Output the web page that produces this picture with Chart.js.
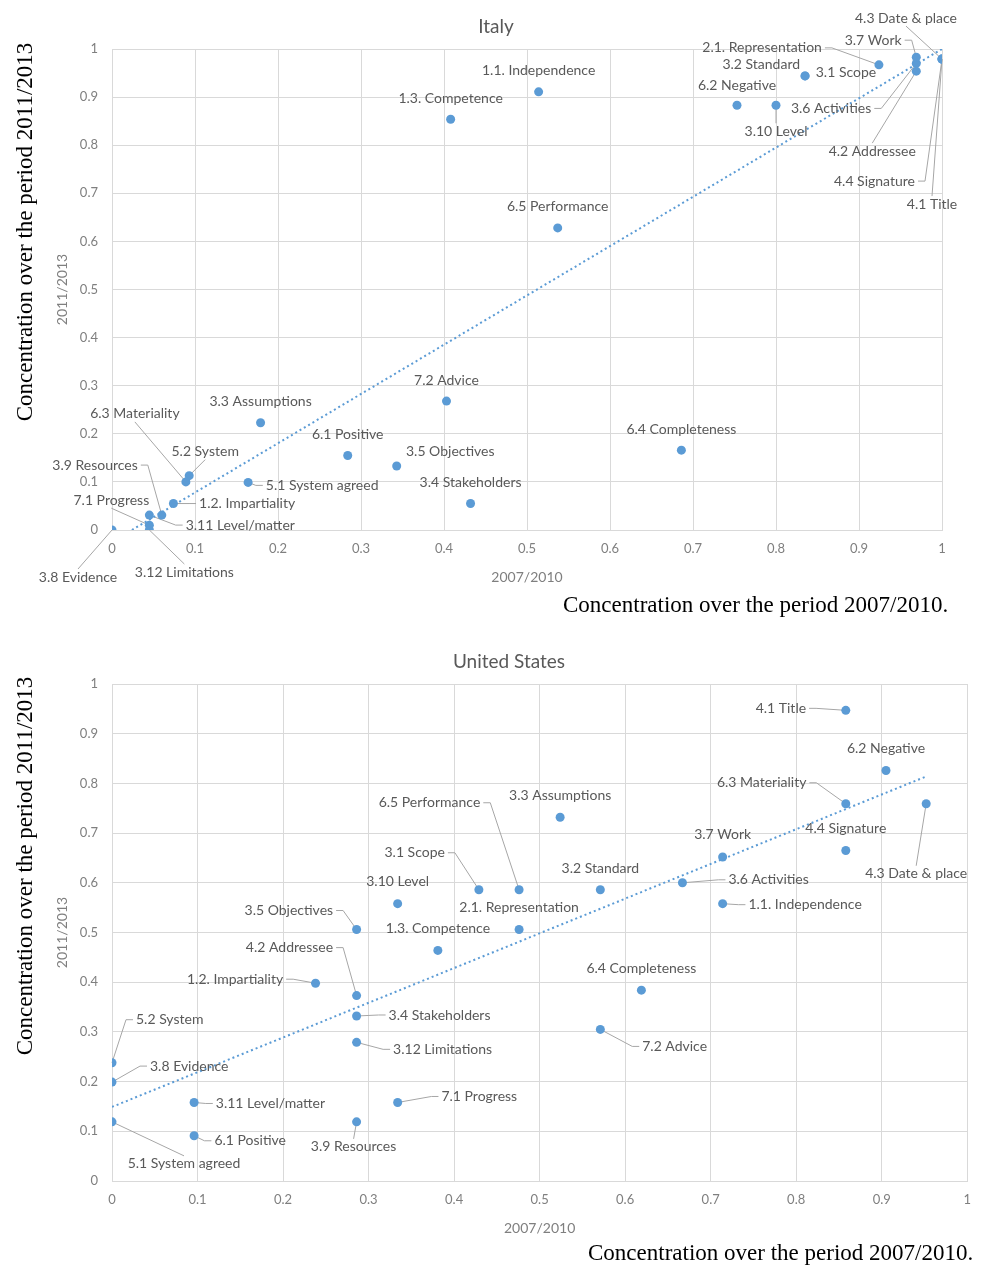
<!DOCTYPE html>
<html>
<head>
<meta charset="utf-8">
<script src="https://cdn.jsdelivr.net/npm/chart.js@4.4.1/dist/chart.umd.min.js"></script>
<style>
  html, body { margin: 0; padding: 0; background: #fff; }
  body { width: 982px; height: 1265px; position: relative; overflow: hidden; }
  .box { position: absolute; left: 0; width: 982px; }
  .cap { position: absolute; font-family: "Liberation Serif", "Times New Roman", serif; font-size: 23px; color: #000; white-space: nowrap; line-height: 1; }
  .rot { transform: translate(-50%, -50%) rotate(-90deg); }
</style>
</head>
<body>
<div class="box" style="top:0;height:595px"><canvas id="italy"></canvas></div>
<div class="box" style="top:630px;height:620px"><canvas id="us"></canvas></div>
<div class="cap rot" style="left:24px;top:232px">Concentration over the period 2011/2013</div>
<div class="cap" style="left:563px;top:593px">Concentration over the period 2007/2010.</div>
<div class="cap rot" style="left:24px;top:866px">Concentration over the period 2011/2013</div>
<div class="cap" style="left:588px;top:1241px">Concentration over the period 2007/2010.</div>
<script>
// item names, same order for both countries
const names = ['1.1. Independence', '1.2. Impartiality', '1.3. Competence', '2.1. Representation',
  '3.1 Scope', '3.2 Standard', '3.3 Assumptions', '3.4 Stakeholders', '3.5 Objectives',
  '3.6 Activities', '3.7 Work', '3.8 Evidence', '3.9 Resources', '3.10 Level',
  '3.11 Level/matter', '3.12 Limitations', '4.1 Title', '4.2 Addressee', '4.3 Date & place',
  '4.4 Signature', '5.1 System agreed', '5.2 System', '6.1 Positive', '6.2 Negative',
  '6.3 Materiality', '6.4 Completeness', '6.5 Performance', '7.1 Progress', '7.2 Advice'];

// Italy: concentration 2007/2010 (x) and 2011/2013 (y)
const itX = [0.514, 0.074, 0.408, 0.924, 0.835, 0.835, 0.179, 0.432, 0.343, 0.969, 0.969, 0, 0.060, 0.800,
  0.045, 0.045, 1, 0.969, 1, 1, 0.164, 0.093, 0.284, 0.753, 0.089, 0.686, 0.537, 0.045, 0.403];
const itY = [0.911, 0.055, 0.854, 0.967, 0.944, 0.944, 0.223, 0.055, 0.133, 0.970, 0.983, 0, 0.031, 0.883,
  0.031, 0, 0.979, 0.954, 0.979, 0.979, 0.099, 0.113, 0.155, 0.883, 0.100, 0.166, 0.628, 0.010, 0.268];
const itTrendX = [0.024, 1];
const itTrendY = [0, 1.0];

// United States
const usX = [0.714, 0.238, 0.381, 0.476, 0.429, 0.571, 0.524, 0.286, 0.286, 0.667, 0.714, 0, 0.286, 0.334,
  0.096, 0.286, 0.858, 0.286, 0.952, 0.858, 0, 0, 0.096, 0.905, 0.858, 0.619, 0.476, 0.334, 0.571];
const usY = [0.558, 0.398, 0.464, 0.506, 0.586, 0.586, 0.732, 0.332, 0.506, 0.600, 0.652, 0.199, 0.119, 0.558,
  0.158, 0.279, 0.947, 0.373, 0.759, 0.665, 0.119, 0.238, 0.091, 0.826, 0.759, 0.384, 0.586, 0.158, 0.305];
const usTrendX = [0, 0.952];
const usTrendY = [0.149, 0.814];

const tickLabels = ['0', '0.1', '0.2', '0.3', '0.4', '0.5', '0.6', '0.7', '0.8', '0.9', '1'];

// label placement: [dx, dy, side] relative to the point (px)
// l/r = leader from left/right edge, t/b = from top/bottom, c = centred, L/R = aligned, no leader
const itLabelPos = [[0, -21, 'c'], [25.6, 0, 'l'], [0, -21, 'c'], [-57, -17, 'r'], [10.7, -3, 'L'],
  [-5, -11, 'R'], [0, -21, 'c'], [0, -21, 'c'], [9.3, -15, 'L'], [-45, 45, 'r'], [-14.6, -17, 'r'],
  [-34, 47, 't'], [-24, -50, 'r'], [0, 26, 't'], [36.3, 10, 'l'], [35, 42, 't'], [-10, 145, 't'],
  [-44, 80, 't'], [-36, -41, 'b'], [-27, 122, 'r'], [17.7, 3, 'l'], [16, -24, 'b'], [0, -21, 'c'],
  [0, -20, 'c'], [-51, -68, 'b'], [0, -21, 'c'], [0, -21, 'c'], [-38, -25, 'b'], [0, -21, 'c']];
const usLabelPos = [[25.8, 1, 'l'], [-32.4, -4, 'r'], [0, -22, 'c'], [0, -22, 'c'], [-34, -37, 'r'],
  [0, -21, 'c'], [0, -22, 'c'], [32, -1, 'l'], [-23.5, -19, 'r'], [46, -3, 'l'], [0, -22, 'c'],
  [38, -16, 'l'], [-3, 25, 't'], [0, -22, 'c'], [21.7, 1, 'l'], [36.5, 7, 'l'], [-39.7, -2, 'r'],
  [-23.5, -48, 'r'], [-10, 70, 't'], [0, -22, 'c'], [72, 42, 't'], [24, -43, 'l'], [20.3, 5, 'l'],
  [0, -22, 'c'], [-39.4, -21, 'r'], [0, -22, 'c'], [-38.8, -87, 'r'], [43.8, -6, 'l'], [41.9, 17, 'l']];

const LABEL_FONT = '14px Lato';

function labelBox(ctx, text, pt, p) {
  const w = ctx.measureText(text).width;
  const side = p[2];
  let left;
  if (side === 'l' || side === 'L') left = pt.x + p[0];
  else if (side === 'r' || side === 'R') left = pt.x + p[0] - w;
  else left = pt.x + p[0] - w / 2;
  return {left: left, right: left + w, cx: left + w / 2, cy: pt.y + p[1]};
}

const pointLabels = {
  id: 'pointLabels',
  beforeDatasetsDraw(chart, args, opts) {
    const ctx = chart.ctx;
    const pts = chart.getDatasetMeta(0).data;
    ctx.save();
    ctx.font = LABEL_FONT;
    ctx.strokeStyle = '#a6a6a6';
    ctx.lineWidth = 1;
    pts.forEach((pt, i) => {
      const p = opts.pos[i];
      const b = labelBox(ctx, opts.names[i], pt, p);
      ctx.beginPath();
      if (p[2] === 'l') {
        ctx.moveTo(b.left - 3, b.cy); ctx.lineTo(b.left - 10, b.cy);
      } else if (p[2] === 'r') {
        ctx.moveTo(b.right + 3, b.cy); ctx.lineTo(b.right + 10, b.cy);
      } else if (p[2] === 't') {
        ctx.moveTo(b.cx, b.cy - 8);
      } else if (p[2] === 'b') {
        ctx.moveTo(b.cx, b.cy + 8);
      } else {
        return;
      }
      ctx.lineTo(pt.x, pt.y);
      ctx.stroke();
    });
    ctx.restore();
  },
  afterDatasetsDraw(chart, args, opts) {
    const ctx = chart.ctx;
    const pts = chart.getDatasetMeta(0).data;
    ctx.save();
    ctx.font = LABEL_FONT;
    ctx.fillStyle = '#595959';
    ctx.textBaseline = 'middle';
    ctx.textAlign = 'left';
    pts.forEach((pt, i) => {
      const b = labelBox(ctx, opts.names[i], pt, opts.pos[i]);
      ctx.fillText(opts.names[i], b.left, b.cy);
    });
    ctx.restore();
  }
};

function axis(title, fit) {
  return {
    type: 'linear', min: 0, max: 1,
    ticks: {stepSize: 0.1, color: '#7f7f7f', font: {family: 'Lato', size: 13}, maxRotation: 0,
      autoSkip: false, padding: fit.pad, callback: (v, i) => tickLabels[i]},
    grid: {color: '#d9d9d9', drawTicks: false},
    border: {color: '#d9d9d9'},
    title: {display: true, text: title, color: '#7f7f7f', font: {family: 'Lato', size: 14}},
    afterFit: fit.fn
  };
}

function makeChart(id, title, xs, ys, tx, ty, pos, lay) {
  return new Chart(document.getElementById(id), {
    type: 'scatter',
    data: {
      datasets: [
        {data: xs.map((x, i) => ({x: x, y: ys[i]})), backgroundColor: '#5b9bd5', borderWidth: 0,
          pointRadius: 4.5, pointHoverRadius: 4.5, order: 1},
        {data: tx.map((x, i) => ({x: x, y: ty[i]})), showLine: true, borderColor: '#5b9bd5',
          borderWidth: 2, borderDash: [2, 3], pointRadius: 0, order: 2}
      ]
    },
    options: {
      animation: false,
      responsive: true,
      maintainAspectRatio: false,
      layout: {padding: {left: 50, right: lay.right, top: 0, bottom: lay.bottom}},
      plugins: {
        legend: {display: false},
        tooltip: {enabled: false},
        title: {display: true, text: title, color: '#595959', font: {family: 'Lato', size: 19, weight: 'normal'},
          padding: {top: lay.tt, bottom: lay.tb}},
        pointLabels: {names: names, pos: pos}
      },
      scales: {
        x: axis('2007/2010', {pad: 11, fn: s => { s.height = 60; }}),
        y: axis('2011/2013', {pad: 14, fn: s => { s.width = 62; }})
      }
    },
    plugins: [pointLabels]
  });
}

makeChart('italy', 'Italy', itX, itY, itTrendX, itTrendY, itLabelPos, {right: 40, bottom: 5, tt: 15.6, tb: 10.6});
makeChart('us', 'United States', usX, usY, usTrendX, usTrendY, usLabelPos, {right: 14, bottom: 9, tt: 20.3, tb: 10.9});
</script>
</body>
</html>
